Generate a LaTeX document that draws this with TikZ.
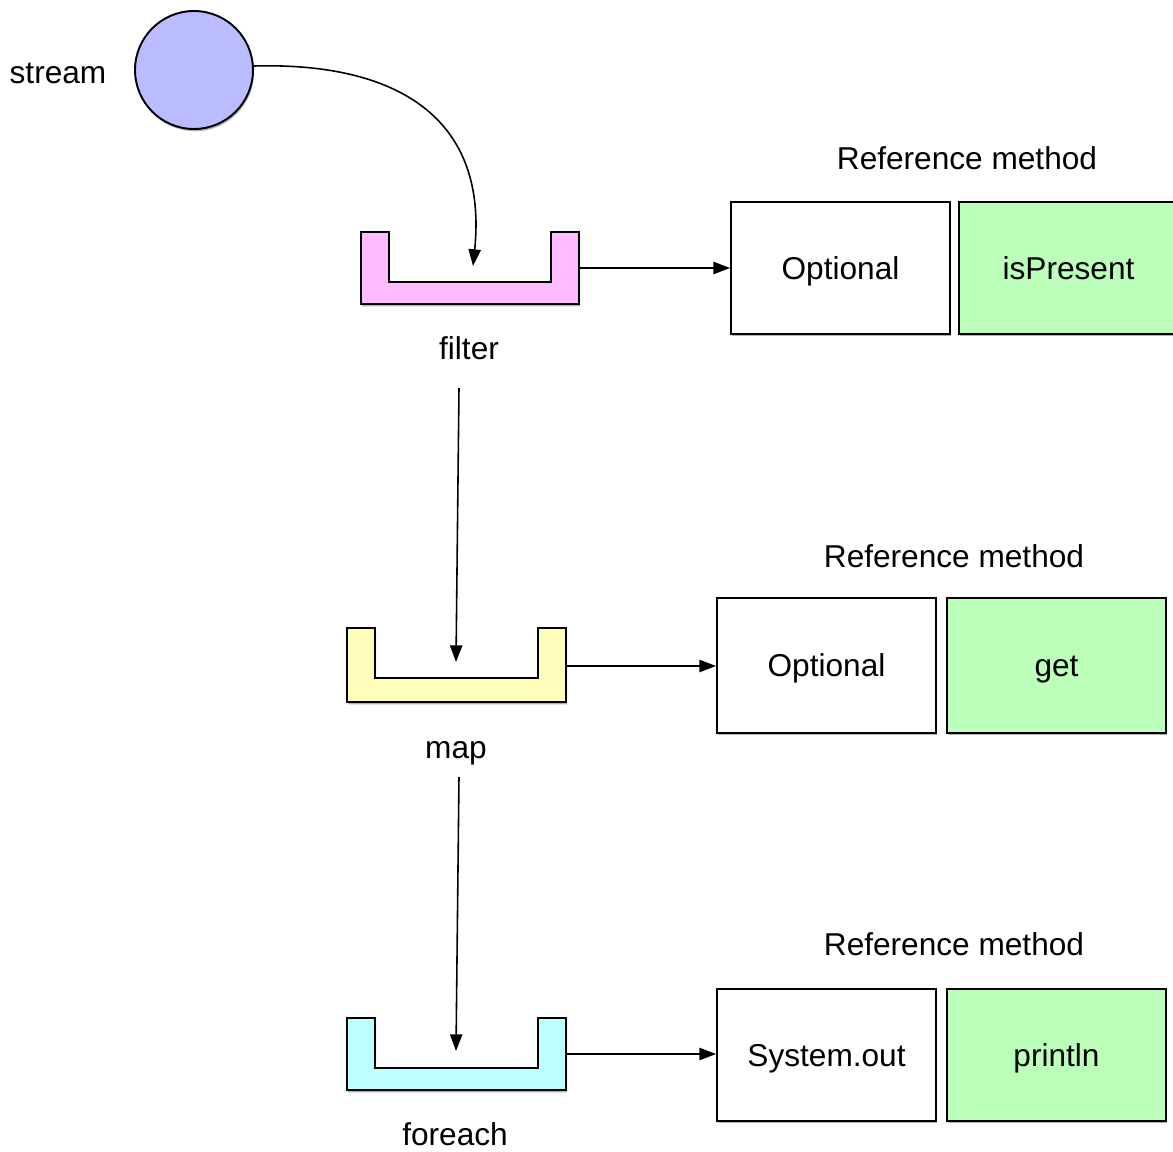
\documentclass[tikz,border=0pt]{standalone}
\usepackage{fontspec}
\setmainfont{Liberation Sans}
\usetikzlibrary{arrows.meta,shadows}
\definecolor{streamblue}{RGB}{187,187,255}
\definecolor{filterpink}{RGB}{255,187,255}
\definecolor{mapyellow}{RGB}{255,255,187}
\definecolor{eachcyan}{RGB}{187,255,255}
\definecolor{methgreen}{RGB}{187,255,187}
\begin{document}
\begin{tikzpicture}[x=0.02cm,y=-0.02cm,
  lbl/.style={font=\fontsize{18}{22}\selectfont, inner sep=0pt, text height=12.9pt, text depth=0pt},
  shad/.style={drop shadow={shadow xshift=0.6pt,shadow yshift=-1.3pt,fill=black,opacity=0.3}},
  cup/.style={draw=black, line width=1.1pt, shad},
  mbox/.style={draw=black, line width=1.1pt, minimum width=4.38cm, minimum height=2.64cm,
     inner sep=0pt, text height=12.9pt, text depth=0pt, font=\fontsize{18}{22}\selectfont, shad},
  conn/.style={line width=0.9pt, -{Triangle[length=9.5pt,width=7pt]}}]
\useasboundingbox (0,0) rectangle (1173,1152);
\clip (0,0) rectangle (1173,1152);

% stream
\node[circle, draw=black, line width=1.1pt, fill=streamblue, minimum size=2.36cm, inner sep=0pt, shad] (stream) at (194,70) {};
\node[lbl] (streamlbl) at (58,72) {stream};

% filter cup
\path[cup, fill=filterpink] (361,232) -- (389,232) -- (389,282) -- (551,282) -- (551,232) -- (579,232) -- (579,304) -- (361,304) -- cycle;
\coordinate (filterIn) at (473,266);
\coordinate (filterR) at (579,268);
\node[lbl] (filterlbl) at (469,348) {filter};
\coordinate (filterOut) at (459,388);

% map cup
\path[cup, fill=mapyellow] (347,628) -- (375,628) -- (375,678) -- (538,678) -- (538,628) -- (566,628) -- (566,702) -- (347,702) -- cycle;
\coordinate (mapIn) at (456,662);
\coordinate (mapR) at (566,666);
\node[lbl] (maplbl) at (456,747) {map};
\coordinate (mapOut) at (459,777);

% foreach cup
\path[cup, fill=eachcyan] (347,1018) -- (375,1018) -- (375,1068) -- (538,1068) -- (538,1018) -- (566,1018) -- (566,1090) -- (347,1090) -- cycle;
\coordinate (eachIn) at (456,1051);
\coordinate (eachR) at (566,1054);
\node[lbl] (eachlbl) at (455,1134) {foreach};

% row 1
\node[lbl] (ref1) at (967,158) {Reference method};
\node[mbox, fill=white] (opt1) at (840.5,268) {Optional};
\node[mbox, fill=methgreen] (isp) at (1068.5,268) {isPresent};

% row 2
\node[lbl] (ref2) at (954,556) {Reference method};
\node[mbox, fill=white, minimum height=2.7cm] (opt2) at (826.5,665.5) {Optional};
\node[mbox, fill=methgreen, minimum height=2.7cm] (get) at (1056.5,665.5) {get};

% row 3
\node[lbl] (ref3) at (954,944) {Reference method};
\node[mbox, fill=white] (sysout) at (826.5,1055) {System.out};
\node[mbox, fill=methgreen] (println) at (1056.5,1055) {println};

% connectors
\draw[conn] (stream.east |- 0,66) .. controls (400,62) and (488,120) .. (filterIn);
\draw[conn] (filterOut) -- (mapIn);
\draw[conn] (mapOut) -- (eachIn);
\draw[conn] (filterR) -- (opt1.west |- filterR);
\draw[conn] (mapR) -- (opt2.west |- mapR);
\draw[conn] (eachR) -- (sysout.west |- eachR);
\end{tikzpicture}
\end{document}
